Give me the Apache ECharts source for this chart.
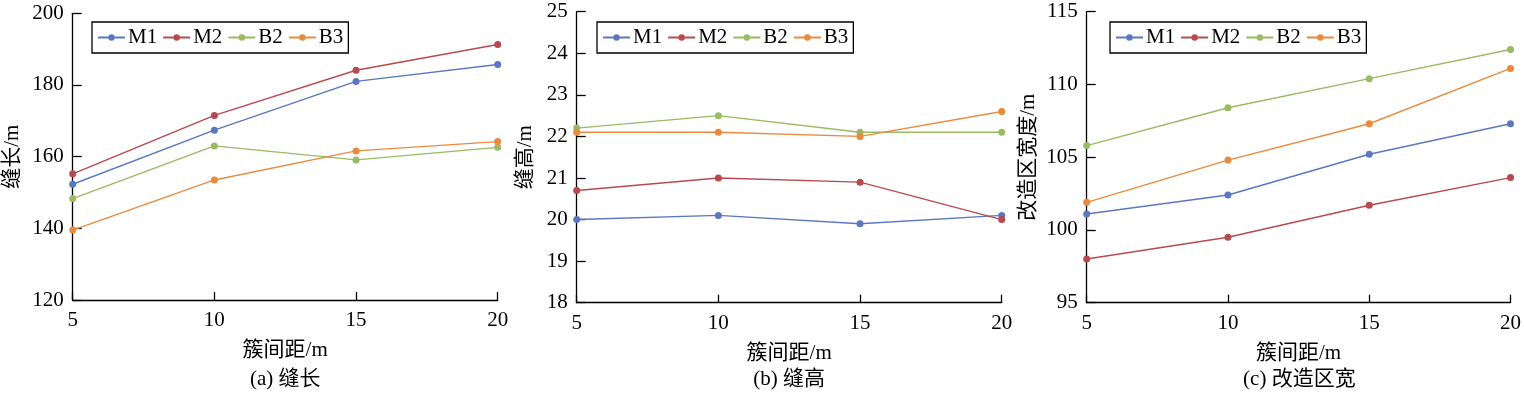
<!DOCTYPE html>
<html>
<head>
<meta charset="utf-8">
<style>
  html, body { margin: 0; padding: 0; background: #fff; }
  #main { width: 1524px; height: 396px; }
</style>
<script src="https://cdn.jsdelivr.net/npm/echarts@6/dist/echarts.min.js"></script>
</head>
<body>
<div id="main"></div>
<script>
// 簇间距
var spacing = [5, 10, 15, 20];
var seriesNames = ['M1', 'M2', 'B2', 'B3'];
var colors = ['#5a78c0', '#b84a4f', '#98bb63', '#ea8a3e'];

// (a) 缝长
var lenM1 = [152.3, 167.4, 181.0, 185.7];
var lenM2 = [155.2, 171.5, 184.1, 191.3];
var lenB2 = [148.3, 163.0, 159.1, 162.6];
var lenB3 = [139.5, 153.5, 161.6, 164.2];

// (b) 缝高
var hgtM1 = [20.0, 20.1, 19.9, 20.1];
var hgtM2 = [20.7, 21.0, 20.9, 20.0];
var hgtB2 = [22.2, 22.5, 22.1, 22.1];
var hgtB3 = [22.1, 22.1, 22.0, 22.6];

// (c) 改造区宽
var widM1 = [101.1, 102.4, 105.2, 107.3];
var widM2 = [98.0, 99.5, 101.7, 103.6];
var widB2 = [105.8, 108.4, 110.4, 112.4];
var widB3 = [101.9, 104.8, 107.3, 111.1];

var fontFam = "'Liberation Serif', 'Noto Sans CJK SC', serif";

// 三个子图的布局
var panels = [
  { left: 72.7, top: 13.3, width: 425, height: 286.7, yMin: 120, yMax: 200, yStep: 20,
    yName: '缝长/m', yGap: 50, caption: '(a) 缝长', legendLeft: 92,
    data: [lenM1, lenM2, lenB2, lenB3] },
  { left: 576.7, top: 11.7, width: 425, height: 291, yMin: 18, yMax: 25, yStep: 1,
    yName: '缝高/m', yGap: 41, caption: '(b) 缝高', legendLeft: 597,
    data: [hgtM1, hgtM2, hgtB2, hgtB3] },
  { left: 1086.7, top: 11.7, width: 425.3, height: 291, yMin: 95, yMax: 115, yStep: 5,
    yName: '改造区宽度/m', yGap: 48, caption: '(c) 改造区宽', legendLeft: 1110,
    data: [widM1, widM2, widB2, widB3] }
];

var axisLine = { show: true, lineStyle: { color: '#000', width: 1.3 } };

var grid = [], xAxis = [], yAxis = [], series = [], legend = [], graphic = [];

panels.forEach(function(p, i) {
  grid.push({ left: p.left, top: p.top, width: p.width, height: p.height });

  xAxis.push({
    type: 'value', gridIndex: i, min: 5, max: 20, interval: 5,
    name: '簇间距/m', nameLocation: 'middle', nameGap: 40,
    nameTextStyle: { fontSize: 21, color: '#000', fontFamily: fontFam },
    axisLine: axisLine,
    axisTick: { show: true, inside: true, length: 8, lineStyle: { color: '#000', width: 1.3 } },
    axisLabel: { fontSize: 21, color: '#000', fontFamily: fontFam, margin: 10 },
    splitLine: { show: false }
  });

  yAxis.push({
    type: 'value', gridIndex: i, min: p.yMin, max: p.yMax, interval: p.yStep,
    name: p.yName, nameLocation: 'middle', nameGap: p.yGap,
    nameTextStyle: { fontSize: 21, color: '#000', fontFamily: fontFam },
    axisLine: axisLine,
    axisTick: { show: true, inside: true, length: 9, lineStyle: { color: '#000', width: 1.3 } },
    axisLabel: { fontSize: 21, color: '#000', fontFamily: fontFam, margin: 9 },
    splitLine: { show: false }
  });

  p.data.forEach(function(vals, k) {
    series.push({
      name: seriesNames[k], type: 'line', xAxisIndex: i, yAxisIndex: i,
      data: spacing.map(function(x, j) { return [x, vals[j]]; }),
      symbol: 'circle', symbolSize: 7,
      itemStyle: { color: colors[k] },
      lineStyle: { color: colors[k], width: 1.4 },
      emphasis: { disabled: true },
      animation: false
    });
  });

  legend.push({
    left: p.legendLeft, top: 22, orient: 'horizontal',
    data: seriesNames,
    itemWidth: 27, itemHeight: 8, itemGap: 5,
    padding: [5, 5],
    borderColor: '#000', borderWidth: 1.3, borderRadius: 0,
    textStyle: { fontSize: 21, color: '#000', fontFamily: fontFam, padding: [0, 0, 0, -2] }
  });

  graphic.push({
    type: 'text', x: p.left + p.width / 2, y: 369,
    style: { text: p.caption, fontSize: 21, fill: '#000', fontFamily: fontFam, textAlign: 'center' }
  });
});

var chart = echarts.init(document.getElementById('main'));
chart.setOption({
  animation: false,
  grid: grid,
  xAxis: xAxis,
  yAxis: yAxis,
  legend: legend,
  series: series,
  graphic: graphic
});
</script>
</body>
</html>
